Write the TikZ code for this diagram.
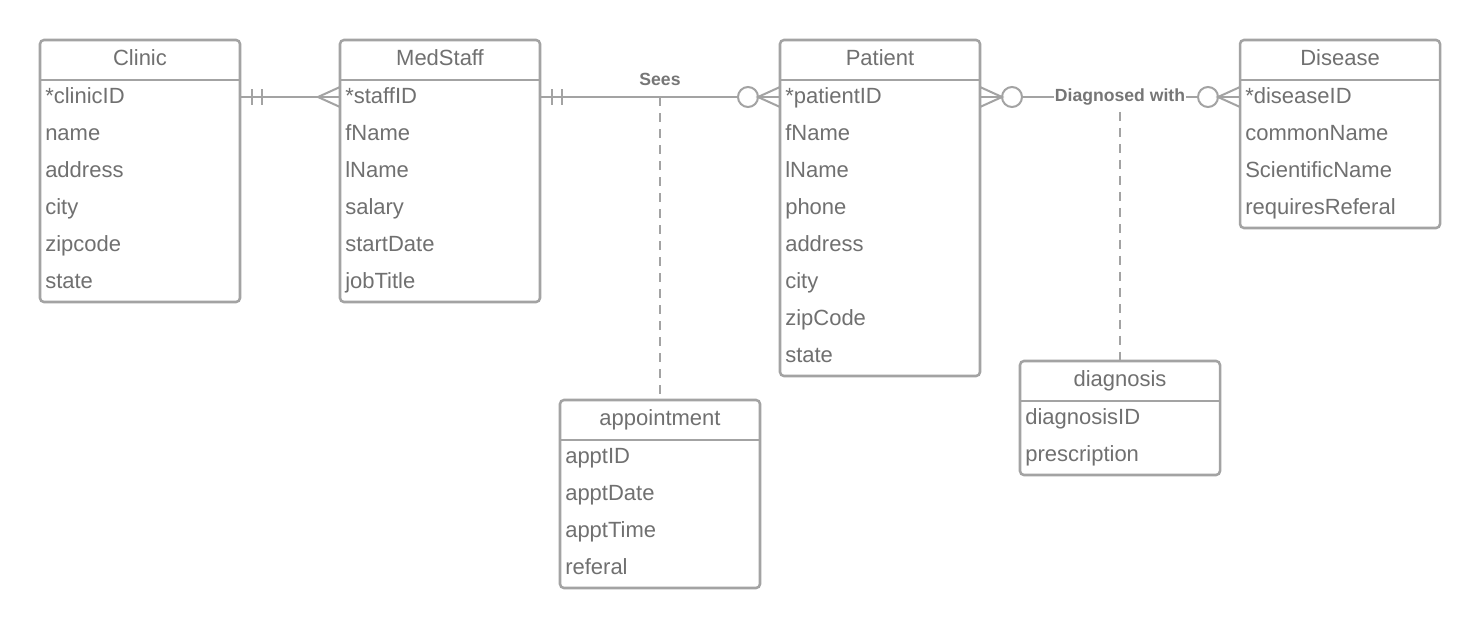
\documentclass[tikz,border=0pt]{standalone}
\usepackage{fontspec}
\setmainfont{Liberation Sans}
\usetikzlibrary{calc}
\definecolor{lineg}{RGB}{163,163,163}
\definecolor{textg}{RGB}{112,112,112}
\definecolor{labelg}{RGB}{118,118,118}
\tikzset{
  tblframe/.style={draw=lineg, line width=1.9pt, rounded corners=3pt, rectangle,
    minimum width=150pt, anchor=north west, outer sep=0pt, inner sep=0pt},
  tblline/.style={draw=lineg, line width=1.9pt},
  hdr/.style={font=\fontsize{16.5}{20}\selectfont, text=textg, inner sep=0pt,
    text height=11.8pt, text depth=0pt},
  rowtxt/.style={font=\fontsize{16.5}{20}\selectfont, text=textg, inner sep=0pt,
    text height=11.8pt, text depth=0pt, anchor=west},
  conn/.style={draw=lineg, line width=1.5pt},
  dashconn/.style={draw=lineg, line width=1.5pt, dash pattern=on 6.5pt off 5.5pt},
  rellabel/.style={font=\fontsize{13.2}{16}\selectfont\bfseries, text=labelg, inner sep=1pt},
}
\newcommand{\ertable}[6]{%
  \node[tblframe, minimum height={(40+37*#4)*0.75pt}] (#1) at (#2,#3) {};
  \draw[tblline] ($(#1.north west)+(0,40)$) -- ($(#1.north east)+(0,40)$);
  \node[hdr] (#1-h) at ($(#1.north)+(0,17.5)$) {#5};
  \foreach \r [count=\i] in {#6} {
    \node[rowtxt] (#1-\i) at ($(#1.north west)+(5,{56+37*(\i-1)})$) {\r};
  }
}
\begin{document}
\begin{tikzpicture}[x=0.75pt,y=-0.75pt]
\useasboundingbox[fill=white] (0,0) rectangle (1480,628);

\ertable{clinic}{40}{40}{6}{Clinic}{*clinicID,name,address,city,zipcode,state}
\ertable{ms}{340}{40}{6}{MedStaff}{*staffID,fName,lName,salary,startDate,jobTitle}
\ertable{pat}{780}{40}{8}{Patient}{*patientID,fName,lName,phone,address,city,zipCode,state}
\ertable{dis}{1240}{40}{4}{Disease}{*diseaseID,commonName,ScientificName,requiresReferal}
\ertable{appt}{560}{400}{4}{appointment}{apptID,apptDate,apptTime,referal}
\ertable{diag}{1020}{361}{2}{diagnosis}{diagnosisID,prescription}

% Clinic -- MedStaff : one and only one -- many
\coordinate (a1) at ($(clinic.east |- clinic-1)+(0,1)$);
\coordinate (b1) at ($(ms.west |- ms-1)+(0,1)$);
\draw[conn] (a1) -- (b1);
\draw[conn] ($(a1)+(12,-8)$) -- ($(a1)+(12,8)$);
\draw[conn] ($(a1)+(22,-8)$) -- ($(a1)+(22,8)$);
\draw[conn] ($(b1)+(0,-10)$) -- ($(b1)+(-22,0)$) -- ($(b1)+(0,10)$);

% MedStaff -- Patient : one and only one -- zero or many
\coordinate (a2) at ($(ms.east |- ms-1)+(0,1)$);
\coordinate (b2) at ($(pat.west |- pat-1)+(0,1)$);
\draw[conn] (a2) -- ($(b2)+(-42,0)$);
\draw[conn] ($(b2)+(-22,0)$) -- (b2);
\draw[conn] ($(a2)+(12,-8)$) -- ($(a2)+(12,8)$);
\draw[conn] ($(a2)+(22,-8)$) -- ($(a2)+(22,8)$);
\draw[conn] ($(b2)+(-32,0)$) circle[radius=7.5pt];
\draw[conn] ($(b2)+(0,-10)$) -- ($(b2)+(-22,0)$) -- ($(b2)+(0,10)$);
\coordinate (m2) at (appt.north |- a2);
\node[rellabel] (sees) at ($(m2)+(0,-18)$) {Sees};
\draw[dashconn] (m2) -- (appt.north);

% Patient -- Disease : zero or many -- zero or many
\coordinate (a3) at ($(pat.east |- pat-1)+(0,1)$);
\coordinate (b3) at ($(dis.west |- dis-1)+(0,1)$);
\draw[conn] ($(a3)+(0,-10)$) -- ($(a3)+(22,0)$) -- ($(a3)+(0,10)$);
\draw[conn] (a3) -- ($(a3)+(22,0)$);
\draw[conn] ($(a3)+(32,0)$) circle[radius=7.5pt];
\draw[conn] ($(a3)+(42,0)$) -- ($(b3)+(-42,0)$);
\draw[conn] ($(b3)+(-32,0)$) circle[radius=7.5pt];
\draw[conn] ($(b3)+(0,-10)$) -- ($(b3)+(-22,0)$) -- ($(b3)+(0,10)$);
\draw[conn] ($(b3)+(-22,0)$) -- (b3);
\node[rellabel, fill=white] (dw) at (diag.north |- a3) {Diagnosed with};
\draw[dashconn] ($(dw.south)+(0,5)$) -- (diag.north);
\end{tikzpicture}
\end{document}
